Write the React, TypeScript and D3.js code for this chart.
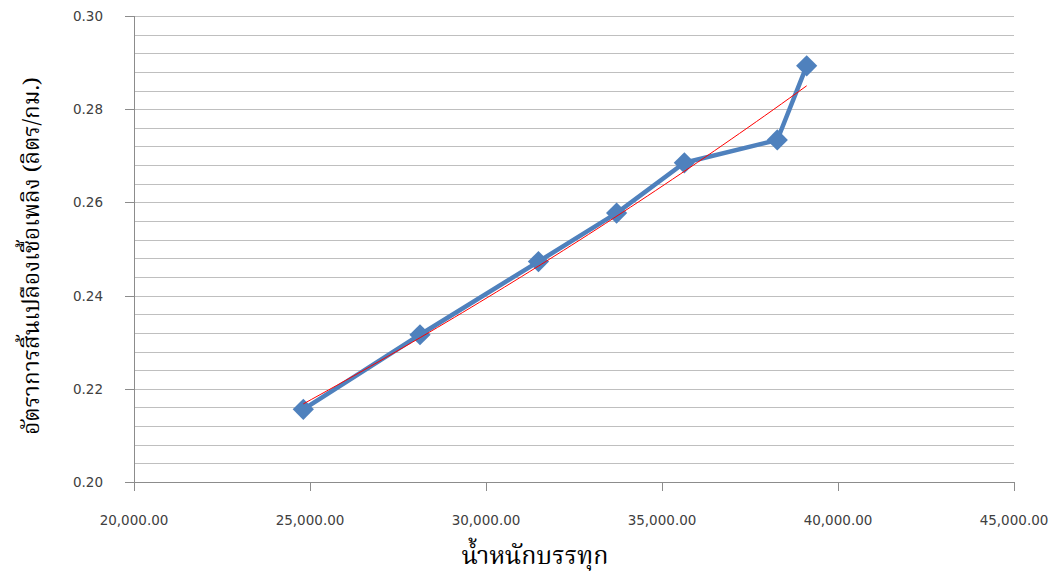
import React from "react";
import * as d3 from "d3";

// Payload weight (kg) and fuel consumption rate (litres/km)
const loadWeights: number[] = [24810, 28125, 31490, 33710, 35635, 38275, 39110];
const fuelRates: number[] = [0.2156, 0.2316, 0.2473, 0.2577, 0.2685, 0.2734, 0.2893];

const xTicks: number[] = [20000, 25000, 30000, 35000, 40000, 45000];
const yMajorTicks: number[] = [0.2, 0.22, 0.24, 0.26, 0.28, 0.3];
const yMinorStep = 0.004;

const xTitle = "น้ำหนักบรรทุก";
const yTitle = "อัตราการสิ้นเปลืองเชื้อเพลิง (ลิตร/กม.)";

const W = 1057;
const H = 577;
const plot = { left: 134, right: 1014, top: 16, bottom: 482 };

// Exponential trendline y = a·e^(b·x), least squares on ln(y)
function expFit(xs: number[], ys: number[]) {
  const n = xs.length;
  const ly = ys.map((v) => Math.log(v));
  const mx = d3.mean(xs)!;
  const my = d3.mean(ly)!;
  let sxy = 0;
  let sxx = 0;
  for (let i = 0; i < n; i++) {
    sxy += (xs[i] - mx) * (ly[i] - my);
    sxx += (xs[i] - mx) * (xs[i] - mx);
  }
  const b = sxy / sxx;
  const lnA = my - b * mx;
  return (x: number) => Math.exp(lnA + b * x);
}

export default function App() {
  const x = d3.scaleLinear().domain([20000, 45000]).range([plot.left, plot.right]);
  const y = d3.scaleLinear().domain([0.2, 0.3]).range([plot.bottom, plot.top]);

  const gridValues = d3.range(0, 26).map((i) => 0.2 + i * yMinorStep);

  const pts = loadWeights.map((w, i) => [w, fuelRates[i]] as [number, number]);
  const line = d3
    .line<[number, number]>()
    .x((d) => x(d[0]))
    .y((d) => y(d[1]));

  const trend = expFit(loadWeights, fuelRates);
  const [xmin, xmax] = d3.extent(loadWeights) as [number, number];
  const trendPts = d3.range(0, 61).map((i) => {
    const xv = xmin + ((xmax - xmin) * i) / 60;
    return [xv, trend(xv)] as [number, number];
  });

  const diamond = d3.symbol().type(d3.symbolSquare).size(225)()!;
  const fmtX = d3.format(",.2f");
  const fmtY = d3.format(".2f");

  const tickFont = "'DejaVu Sans', sans-serif";
  const thaiFont =
    "Norasi, 'Noto Serif Thai', Laksaman, 'TH Sarabun New', Kinnari, 'Noto Sans Thai Looped', serif";

  return (
    <svg
      width={W}
      height={H}
      style={{ position: "absolute", left: 0, top: 0, background: "#fff" }}
    >
      {/* horizontal gridlines */}
      {gridValues.map((v, i) => (
        <line
          key={"g" + i}
          x1={plot.left}
          x2={plot.right}
          y1={Math.round(y(v)) + 0.5}
          y2={Math.round(y(v)) + 0.5}
          stroke="#BFBFBF"
          strokeWidth={1}
        />
      ))}

      {/* y axis */}
      <line
        x1={plot.left + 0.5}
        x2={plot.left + 0.5}
        y1={plot.top}
        y2={plot.bottom}
        stroke="#8C8C8C"
      />
      {yMajorTicks.map((v) => (
        <g key={"yt" + v}>
          <line
            x1={plot.left - 9}
            x2={plot.left}
            y1={Math.round(y(v)) + 0.5}
            y2={Math.round(y(v)) + 0.5}
            stroke="#8C8C8C"
          />
          <text
            x={103}
            y={y(v)}
            textAnchor="end"
            dominantBaseline="central"
            fontFamily={tickFont}
            fontSize={13.5}
            fill="#404040"
          >
            {fmtY(v)}
          </text>
        </g>
      ))}

      {/* x axis */}
      <line
        x1={plot.left}
        x2={plot.right}
        y1={plot.bottom + 0.5}
        y2={plot.bottom + 0.5}
        stroke="#8C8C8C"
      />
      {xTicks.map((v) => (
        <g key={"xt" + v}>
          <line
            x1={Math.round(x(v)) + 0.5}
            x2={Math.round(x(v)) + 0.5}
            y1={plot.bottom}
            y2={plot.bottom + 9}
            stroke="#8C8C8C"
          />
          <text
            x={x(v)}
            y={520}
            textAnchor="middle"
            dominantBaseline="central"
            fontFamily={tickFont}
            fontSize={13.5}
            fill="#404040"
          >
            {fmtX(v)}
          </text>
        </g>
      ))}

      {/* data series */}
      <path
        d={line(pts)!}
        fill="none"
        stroke="#4F81BD"
        strokeWidth={4.5}
        strokeLinejoin="round"
        strokeLinecap="round"
      />
      {pts.map((d, i) => (
        <path
          key={"m" + i}
          d={diamond}
          transform={`translate(${x(d[0])},${y(d[1])}) rotate(45)`}
          fill="#4F81BD"
        />
      ))}

      {/* trendline */}
      <path d={line(trendPts)!} fill="none" stroke="#FF0000" strokeWidth={1} />

      {/* axis titles */}
      <text
        x={535}
        y={564}
        textAnchor="middle"
        fontFamily={thaiFont}
        fontWeight={400}
        fontSize={25}
        fill="#000"
      >
        {xTitle}
      </text>
      <text
        transform={`translate(39,256) rotate(-90)`}
        textAnchor="middle"
        fontFamily={thaiFont}
        fontWeight={400}
        fontSize={22.5}
        fill="#000"
      >
        {yTitle}
      </text>
    </svg>
  );
}
